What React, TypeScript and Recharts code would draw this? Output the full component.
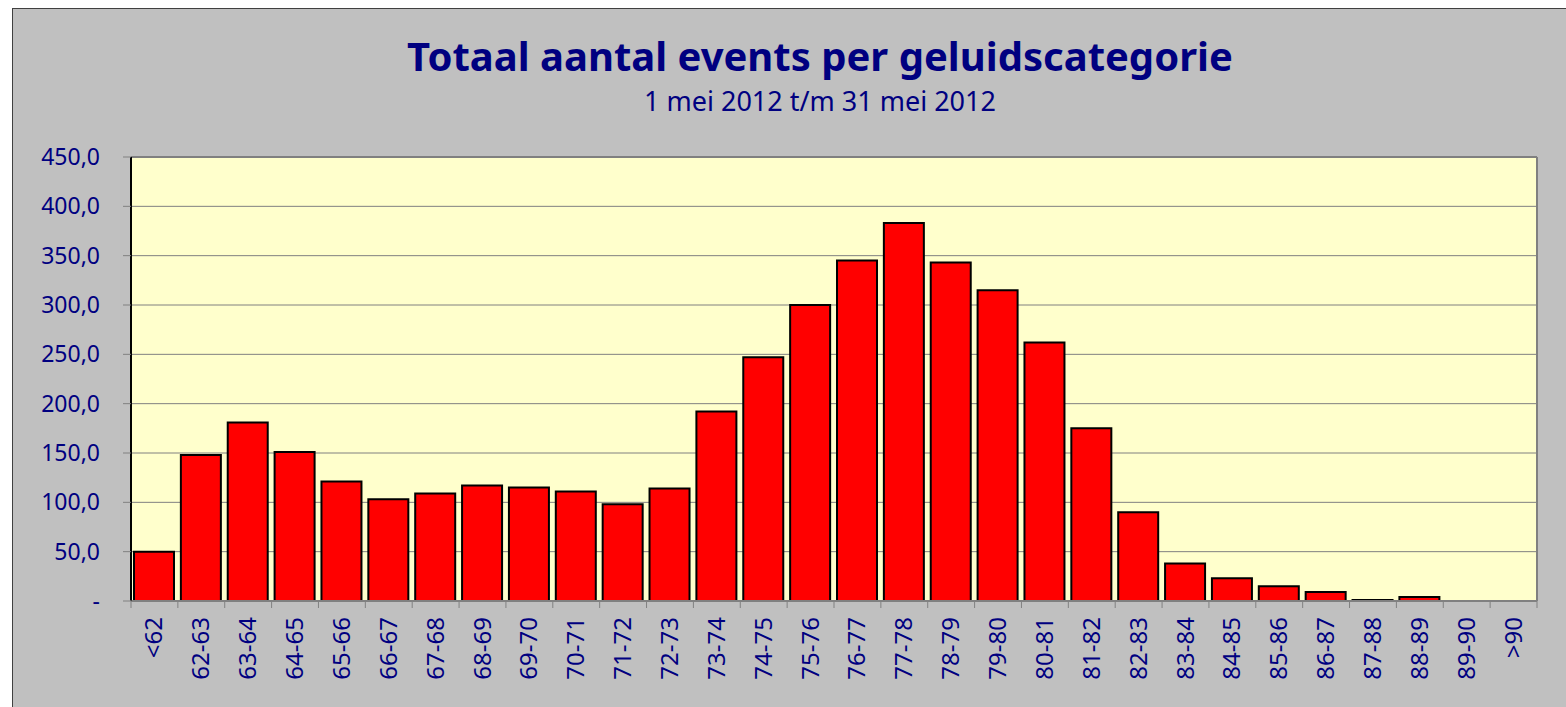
import React from 'react'
import { BarChart, Bar, XAxis, YAxis, CartesianGrid, ReferenceLine } from 'recharts'

const categories = ['<62', '62-63', '63-64', '64-65', '65-66', '66-67', '67-68', '68-69', '69-70', '70-71', '71-72', '72-73', '73-74', '74-75', '75-76', '76-77', '77-78', '78-79', '79-80', '80-81', '81-82', '82-83', '83-84', '84-85', '85-86', '86-87', '87-88', '88-89', '89-90', '>90']
const events = [50, 148, 181, 151, 121, 103, 109, 117, 115, 111, 98, 114, 192, 247, 300, 345, 383, 343, 315, 262, 175, 90, 38, 23, 15, 9, 1, 4, 0, 0]
const yTicks = [0, 50, 100, 150, 200, 250, 300, 350, 400, 450]

const title = 'Totaal aantal events per geluidscategorie'
const subtitle = '1 mei 2012 t/m 31 mei 2012'

const data = categories.map((name, i) => ({ name, events: events[i] }))

const NAVY = '#000080'
const FONT = '"Noto Sans", sans-serif'

if (typeof document !== 'undefined') {
  document.body.style.margin = '0'
  document.body.style.overflow = 'hidden'
}

const fmtY = (v: number) => (v === 0 ? '-' : v.toFixed(1).replace('.', ','))

// x labels rotated, with Excel-style ticks between categories
function XTick(props: any) {
  const { x, y, payload, index } = props
  const half = 1406 / categories.length / 2
  return (
    <g>
      <line x1={x - half} x2={x - half} y1={y - 9} y2={y - 1} stroke="#808080" />
      {index === categories.length - 1 && (
        <line x1={x + half} x2={x + half} y1={y - 9} y2={y - 1} stroke="#808080" />
      )}
      <text
        x={0}
        y={0}
        transform={`translate(${x + 8},${y + 8}) rotate(-90)`}
        textAnchor="end"
        fill={NAVY}
        fontSize={24}
        fontFamily={FONT}
      >
        {payload.value}
      </text>
    </g>
  )
}

export default function App() {
  return (
    <div
      style={{
        position: 'absolute',
        left: 12,
        top: 8,
        width: 1556,
        height: 701,
        background: '#C0C0C0',
        border: '1px solid #404040',
        boxSizing: 'border-box',
        fontFamily: FONT,
      }}
    >
      <div style={{ position: 'absolute', left: 307, width: 1000, top: 27, textAlign: 'center', color: NAVY, fontSize: 40, fontWeight: 'bold', lineHeight: 1, whiteSpace: 'nowrap' }}>
        {title}
      </div>
      <div style={{ position: 'absolute', left: 307, width: 1000, top: 78, textAlign: 'center', color: NAVY, fontSize: 27, lineHeight: 1, whiteSpace: 'nowrap' }}>
        {subtitle}
      </div>
      <BarChart width={1554} height={699} data={data} margin={{ top: 148, right: 30, left: 0, bottom: 7 }}>
        <CartesianGrid vertical={false} stroke="#808080" fill="#FFFFCC" />
        <XAxis
          dataKey="name"
          interval={0}
          height={100}
          tickLine={false}
          axisLine={{ stroke: '#808080', strokeWidth: 2 }}
          tick={<XTick />}
        />
        <YAxis
          domain={[0, 450]}
          ticks={yTicks}
          width={118}
          tickFormatter={fmtY}
          tickSize={8}
          tickMargin={23}
          tick={{ fill: NAVY, fontSize: 23, fontFamily: FONT }}
          tickLine={{ stroke: '#808080' }}
          axisLine={{ stroke: '#000000', strokeWidth: 2 }}
        />
        <ReferenceLine y={450} stroke="#808080" strokeWidth={2} />
        <ReferenceLine x=">90" position="end" stroke="#808080" strokeWidth={2} />
        <Bar dataKey="events" fill="#FF0000" stroke="#000000" strokeWidth={2} barSize={40} isAnimationActive={false} />
      </BarChart>
    </div>
  )
}
